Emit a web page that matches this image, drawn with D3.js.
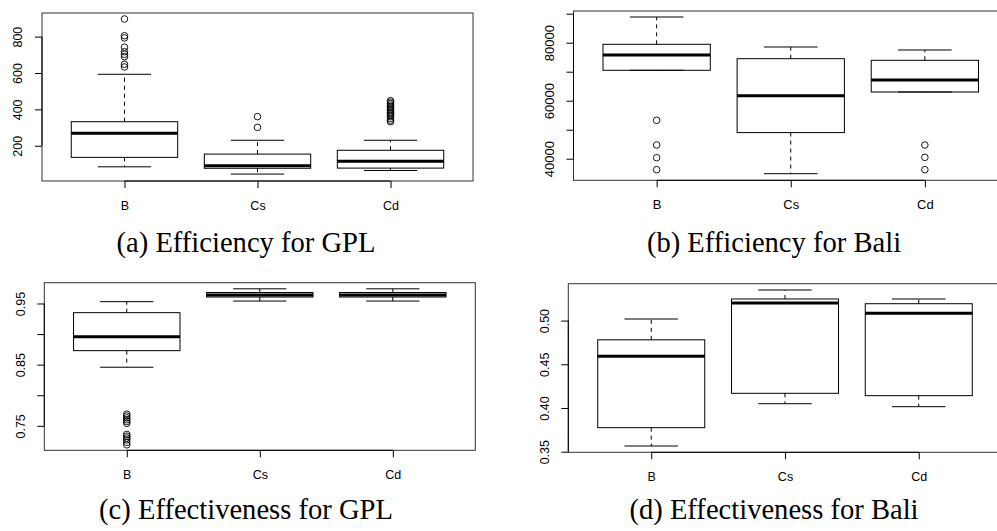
<!DOCTYPE html>
<html>
<head>
<meta charset="utf-8">
<script src="https://cdn.jsdelivr.net/npm/d3@7"></script>
<style>
  html, body { margin: 0; padding: 0; background: #fff; }
  svg { display: block; }
</style>
</head>
<body>
<svg id="chart" width="997" height="531"></svg>
<script>
// ---------------- DATA ----------------
const categories = ["B", "Cs", "Cd"];

// five-number summaries per category: [lower whisker, Q1, median, Q3, upper whisker]
const effGplStats = [[84, 136, 268, 332, 593], [44, 76, 90, 154, 230], [64, 77, 114, 175, 230]];
const effGplOutliers = [
  [897, 805, 793, 742, 717, 703, 690, 648, 633],
  [360, 301],
  [448, 440, 432, 424, 416, 408, 400, 392, 384, 376, 368, 360, 350, 340, 332]
];
const effGplTicks = [200, 400, 600, 800];
const effGplLabels = ["200", "400", "600", "800"];

const effBaliStats = [[70483, 70483, 75759, 79448, 88862], [34828, 49000, 61724, 74483, 78517], [63000, 63000, 67138, 73931, 77483]];
const effBaliOutliers = [[53241, 44724, 40345, 36207], [], [44724, 40460, 36207]];
const effBaliTicks = [40000, 50000, 60000, 70000, 80000, 90000];
const effBaliLabels = ["40000", "", "60000", "", "80000", ""];

const effectGplStats = [[0.8458, 0.8729, 0.8958, 0.935, 0.953], [0.954, 0.9606, 0.964, 0.968, 0.974], [0.954, 0.9606, 0.964, 0.968, 0.974]];
const effectGplOutliers = [[0.769, 0.766, 0.763, 0.760, 0.757, 0.754, 0.736, 0.733, 0.730, 0.727, 0.723, 0.719], [], []];
const effectGplTicks = [0.75, 0.80, 0.85, 0.90, 0.95];
const effectGplLabels = ["0.75", "", "0.85", "", "0.95"];

const effectBaliStats = [[0.3565, 0.3775, 0.4591, 0.478, 0.5018], [0.4049, 0.4168, 0.5201, 0.5247, 0.535], [0.4015, 0.4141, 0.5084, 0.5193, 0.5247]];
const effectBaliOutliers = [[], [], []];
const effectBaliTicks = [0.35, 0.40, 0.45, 0.50];
const effectBaliLabels = ["0.35", "0.40", "0.45", "0.50"];

const captions = ["(a) Efficiency for GPL", "(b) Efficiency for Bali", "(c) Effectiveness for GPL", "(d) Effectiveness for Bali"];

// ---------------- LAYOUT ----------------
const panels = [
  { stats: effGplStats, out: effGplOutliers, ticks: effGplTicks, labels: effGplLabels,
    yDomain: [6, 930], box: { x0: 42, x1: 473, y0: 13, y1: 181 }, font: 12.5,
    caption: captions[0], cx: 246, cy: 252 },
  { stats: effBaliStats, out: effBaliOutliers, ticks: effBaliTicks, labels: effBaliLabels,
    yDomain: [32550, 90930], box: { x0: 573.5, x1: 1008, y0: 11, y1: 180.3 }, font: 13,
    caption: captions[1], cx: 774, cy: 252 },
  { stats: effectGplStats, out: effectGplOutliers, ticks: effectGplTicks, labels: effectGplLabels,
    yDomain: [0.710, 0.984], box: { x0: 44.3, x1: 475.3, y0: 282.7, y1: 450.3 }, font: 12.5,
    caption: captions[2], cx: 246, cy: 519 },
  { stats: effectBaliStats, out: effectBaliOutliers, ticks: effectBaliTicks, labels: effectBaliLabels,
    yDomain: [0.3493, 0.5422], box: { x0: 568.3, x1: 1001.7, y0: 283.7, y1: 452.3 }, font: 12.5,
    caption: captions[3], cx: 774, cy: 519 }
];

const svg = d3.select("#chart");
const sansFont = "'Liberation Sans', Arial, Helvetica, sans-serif";
const serifFont = "'Liberation Serif', 'Times New Roman', serif";

panels.forEach(p => {
  const b = p.box;
  const x = d3.scaleLinear().domain([0.38, 3.62]).range([b.x0, b.x1]);
  const y = d3.scaleLinear().domain(p.yDomain).range([b.y1, b.y0]);
  const step = x(2) - x(1);
  const boxW = 0.8 * step;
  const capW = 0.5 * boxW;

  const g = svg.append("g");

  // frame
  g.append("rect")
    .attr("x", b.x0).attr("y", b.y0)
    .attr("width", b.x1 - b.x0).attr("height", b.y1 - b.y0)
    .attr("fill", "none").attr("stroke", "#333").attr("stroke-width", 1);

  // boxes
  p.stats.forEach((s, i) => {
    const cx = x(i + 1);
    const [lo, q1, med, q3, hi] = s;
    const bg = g.append("g");
    // whiskers (dashed)
    bg.append("line").attr("x1", cx).attr("x2", cx).attr("y1", y(q3)).attr("y2", y(hi))
      .attr("stroke", "#000").attr("stroke-width", 1).attr("stroke-dasharray", "4,4");
    bg.append("line").attr("x1", cx).attr("x2", cx).attr("y1", y(q1)).attr("y2", y(lo))
      .attr("stroke", "#000").attr("stroke-width", 1).attr("stroke-dasharray", "4,4");
    // caps
    [lo, hi].forEach(v => {
      bg.append("line").attr("x1", cx - capW / 2).attr("x2", cx + capW / 2)
        .attr("y1", y(v)).attr("y2", y(v)).attr("stroke", "#000").attr("stroke-width", 1);
    });
    // box
    bg.append("rect").attr("x", cx - boxW / 2).attr("width", boxW)
      .attr("y", y(q3)).attr("height", y(q1) - y(q3))
      .attr("fill", "none").attr("stroke", "#000").attr("stroke-width", 1);
    // median
    bg.append("line").attr("x1", cx - boxW / 2).attr("x2", cx + boxW / 2)
      .attr("y1", y(med)).attr("y2", y(med)).attr("stroke", "#000").attr("stroke-width", 3);
    // outliers
    bg.selectAll("circle").data(p.out[i]).join("circle")
      .attr("cx", cx).attr("cy", d => y(d)).attr("r", 3.3)
      .attr("fill", "none").attr("stroke", "#000").attr("stroke-width", 0.9);
  });

  // y axis
  const ya = g.append("g").attr("transform", `translate(${b.x0},0)`)
    .call(d3.axisLeft(y).tickValues(p.ticks).tickFormat((d, i) => p.labels[i]).tickSize(7).tickSizeOuter(0));
  ya.select(".domain").remove();
  ya.append("line").attr("x1", 0).attr("x2", 0)
    .attr("y1", y(p.ticks[0])).attr("y2", y(p.ticks[p.ticks.length - 1]))
    .attr("stroke", "#000");
  ya.selectAll(".tick line").attr("stroke", "#000");
  ya.selectAll(".tick text")
    .attr("transform", "rotate(-90)")
    .attr("x", 0).attr("y", -24).attr("dy", "0.35em")
    .attr("text-anchor", "middle")
    .attr("font-family", sansFont).attr("font-size", p.font).attr("fill", "#000");

  // x axis
  const xa = g.append("g").attr("transform", `translate(0,${b.y1})`)
    .call(d3.axisBottom(x).tickValues([1, 2, 3]).tickFormat(d => categories[d - 1]).tickSize(7).tickSizeOuter(0));
  xa.select(".domain").remove();
  xa.append("line").attr("x1", x(1)).attr("x2", x(3)).attr("y1", 0).attr("y2", 0).attr("stroke", "#000");
  xa.selectAll(".tick line").attr("stroke", "#000");
  xa.selectAll(".tick text")
    .attr("y", 24.5).attr("dy", "0.35em")
    .attr("font-family", sansFont).attr("font-size", p.font).attr("fill", "#000");
});

// captions: size chosen so that (a) spans ~259px like the reference
const probe = svg.append("text").attr("font-family", serifFont).attr("font-size", 24).text(captions[0]);
const w24 = probe.node().getComputedTextLength();
probe.remove();
const capSize = 24 * 259 / w24;

svg.selectAll("text.caption").data(panels).join("text")
  .attr("class", "caption")
  .attr("x", d => d.cx).attr("y", d => d.cy)
  .attr("text-anchor", "middle")
  .attr("font-family", serifFont).attr("font-size", capSize)
  .attr("fill", "#000")
  .text(d => d.caption);
</script>
</body>
</html>
